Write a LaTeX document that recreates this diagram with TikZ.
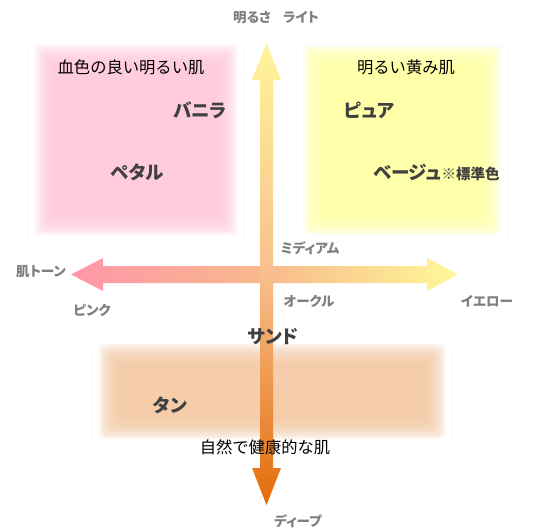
\documentclass[tikz,border=0pt]{standalone}
\usepackage{fontspec}
\setmainfont{Noto Sans CJK JP}[RawFeature=+palt]
\newfontfamily\fullfont{Noto Sans CJK JP}
\definecolor{pinkbox}{HTML}{FFCCDD}
\definecolor{yellowbox}{HTML}{FFFFAA}
\definecolor{tanbox}{HTML}{F5CDAA}
\definecolor{vtop}{HTML}{FFF59A}
\definecolor{vmid}{HTML}{F8BF8C}
\definecolor{vbot}{HTML}{E46C0A}
\definecolor{hleft}{HTML}{FF96AA}
\definecolor{hmid}{HTML}{F8B98C}
\definecolor{hright}{HTML}{FFF898}
\definecolor{labgray}{HTML}{7F7F7F}
\definecolor{namedark}{HTML}{404040}
\newcommand{\softbox}[5]{%
  \draw[black!2.5, line width=0.6pt, rounded corners=6pt] (#2-16,#3-8) rectangle (#4+16,#5+16);
  \fill[#1] (#2+10,#3+10) rectangle (#4-10,#5-10);
  \foreach \i in {0,...,12}{%
    \pgfmathsetmacro{\o}{-9+1.5*\i}
    \fill[#1, opacity=0.16, rounded corners=5pt] (#2-\o,#3-\o) rectangle (#4+\o,#5+\o);
  }%
}
\tikzset{
  graylab/.style={font=\bfseries\fontsize{13.5}{15}\selectfont, text=labgray, inner sep=0pt},
  desc/.style={font=\fullfont\fontsize{16.3}{18}\selectfont, text=black, inner sep=0pt},
  shade/.style={font=\bfseries\fontsize{18.5}{20}\selectfont, text=namedark, inner sep=0pt},
}
\begin{document}
\begin{tikzpicture}[x=1pt,y=-1pt]
\useasboundingbox (0,0) rectangle (543,531);
\fill[white] (0,0) rectangle (543,531);
% soft boxes
\softbox{pinkbox}{44}{54}{228}{226}
\softbox{yellowbox}{312}{54}{492}{226}
\softbox{tanbox}{108}{353}{436}{430}
% horizontal arrow
\shade[left color=hleft, right color=hright, middle color=hmid]
  (71,274.5) -- (103,258) -- (103,266) -- (427,266) -- (427,258) -- (458,274.5)
  -- (427,291) -- (427,283) -- (103,283) -- (103,291) -- cycle;
% vertical arrow
\shade[top color=vtop, bottom color=vbot, middle color=vmid]
  (266.5,43) -- (281,80) -- (273,80) -- (273,468) -- (281,468) -- (266.5,505)
  -- (252,468) -- (260,468) -- (260,80) -- (252,80) -- cycle;
% axis labels
\node[graylab] (light) at (276,18) {明るさ\hspace{0.9em}ライト};
\node[graylab] (medium) at (310,248) {ミディアム};
\node[graylab] (tone) at (41,272) {肌トーン};
\node[graylab] (pink) at (92,310) {ピンク};
\node[graylab] (ochre) at (309,301) {オークル};
\node[graylab] (yellow) at (487,301) {イエロー};
\node[graylab] (deep) at (298,521) {ディープ};
% descriptions
\node[desc] (d1) at (131,67) {血色の良い明るい肌};
\node[desc] (d2) at (406,67) {明るい黄み肌};
\node[desc] (d3) at (265,447) {自然で健康的な肌};
% shade names
\node[shade] (vanilla) at (200,110) {バニラ};
\node[shade] (petal) at (137,172) {ペタル};
\node[shade] (pure) at (369,110) {ピュア};
\node[shade, anchor=west] (beige) at (373,173) {ベージュ\fontsize{14.5}{16}\selectfont ※標準色};
\node[shade] (sand) at (273,337) {サンド};
\node[shade] (tan) at (170,405) {タン};
\end{tikzpicture}
\end{document}
